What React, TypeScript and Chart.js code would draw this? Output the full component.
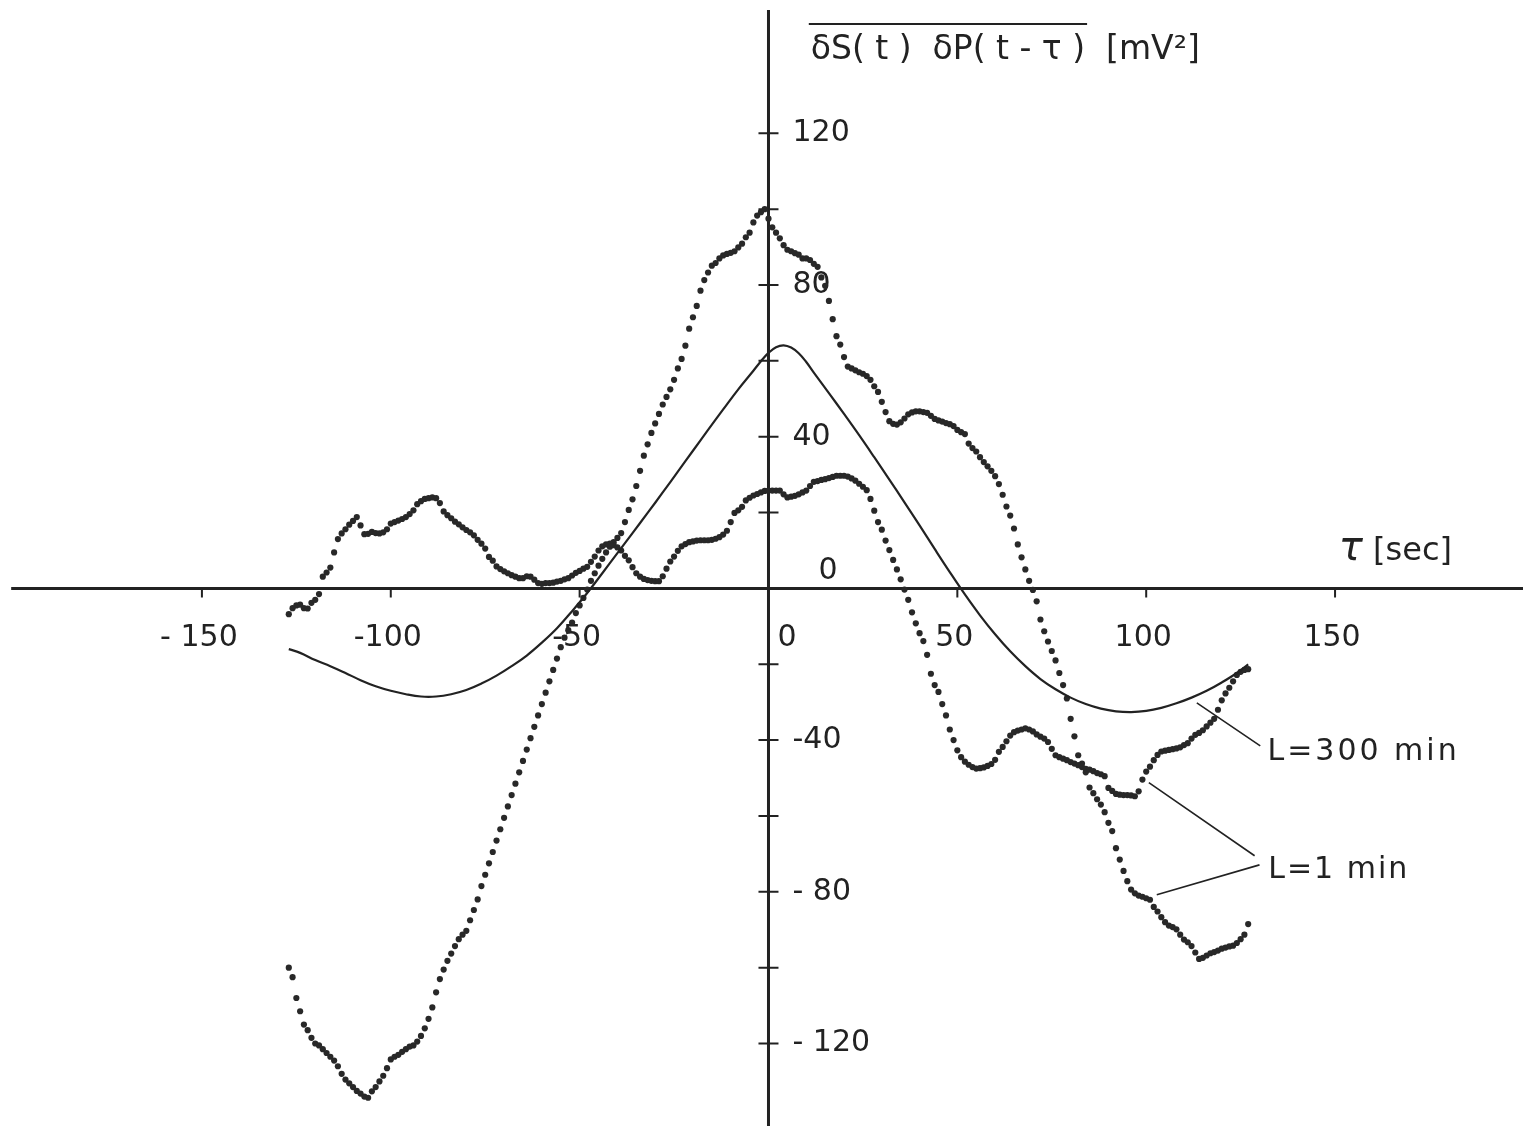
import React, { useEffect, useRef } from "react";
import { Chart, registerables } from "chart.js";

Chart.register(...registerables);

// lag tau [sec] of the sampled correlation values
const LAGS = [
  -127, -126, -125, -124, -123, -122, -121, -120, -119, -118,
  -117, -116, -115, -114, -113, -112, -111, -110, -109, -108,
  -107, -106, -105, -104, -103, -102, -101, -100, -99, -98,
  -97, -96, -95, -94, -93, -92, -91, -90, -89, -88,
  -87, -86, -85, -84, -83, -82, -81, -80, -79, -78,
  -77, -76, -75, -74, -73, -72, -71, -70, -69, -68,
  -67, -66, -65, -64, -63, -62, -61, -60, -59, -58,
  -57, -56, -55, -54, -53, -52, -51, -50, -49, -48,
  -47, -46, -45, -44, -43, -42, -41, -40, -39, -38,
  -37, -36, -35, -34, -33, -32, -31, -30, -29, -28,
  -27, -26, -25, -24, -23, -22, -21, -20, -19, -18,
  -17, -16, -15, -14, -13, -12, -11, -10, -9, -8,
  -7, -6, -5, -4, -3, -2, -1, 0, 1, 2,
  3, 4, 5, 6, 7, 8, 9, 10, 11, 12,
  13, 14, 15, 16, 17, 18, 19, 20, 21, 22,
  23, 24, 25, 26, 27, 28, 29, 30, 31, 32,
  33, 34, 35, 36, 37, 38, 39, 40, 41, 42,
  43, 44, 45, 46, 47, 48, 49, 50, 51, 52,
  53, 54, 55, 56, 57, 58, 59, 60, 61, 62,
  63, 64, 65, 66, 67, 68, 69, 70, 71, 72,
  73, 74, 75, 76, 77, 78, 79, 80, 81, 82,
  83, 84, 85, 86, 87, 88, 89, 90, 91, 92,
  93, 94, 95, 96, 97, 98, 99, 100, 101, 102,
  103, 104, 105, 106, 107, 108, 109, 110, 111, 112,
  113, 114, 115, 116, 117, 118, 119, 120, 121, 122,
  123, 124, 125, 126, 127,
];

// L = 1 min, first record (small amplitude, densely dotted)
const L1_SMALL = [
  -6.8, -5.2, -4.5, -4.3, -5.2, -5.3, -3.8, -3, -1.5, 3.1,
  4.2, 5.5, 9.5, 13, 14.5, 15.6, 16.8, 17.8, 18.8, 16.6,
  14.3, 14.4, 14.9, 14.6, 14.5, 14.8, 15.6, 17.1, 17.5, 17.9,
  18.3, 18.8, 19.6, 20.6, 22.2, 23, 23.6, 23.8, 24, 23.8,
  22.5, 20.3, 19.3, 18.5, 17.6, 16.9, 16.1, 15.4, 14.8, 14,
  12.8, 11.8, 10.5, 8.3, 7.3, 5.8, 5.1, 4.5, 4, 3.5,
  3.1, 2.7, 2.7, 3.2, 3.1, 2.3, 1.4, 1.2, 1.4, 1.4,
  1.5, 1.8, 2, 2.4, 2.7, 3.4, 4.1, 4.6, 5.2, 5.7,
  7, 8.4, 10, 11.1, 11.6, 11.8, 11.4, 10.8, 10, 8.6,
  7.4, 5.6, 4, 3.1, 2.5, 2.2, 2, 1.9, 1.9, 3.2,
  5.2, 7.1, 8.4, 9.9, 11.1, 11.7, 12.2, 12.4, 12.6, 12.7,
  12.7, 12.7, 12.8, 13.1, 13.5, 14.2, 15.2, 17.5, 19.9, 20.6,
  21.5, 23.2, 23.9, 24.5, 24.9, 25.3, 25.7, 25.8, 25.8, 25.8,
  25.8, 24.8, 24, 24.2, 24.4, 24.8, 25.3, 25.8, 27, 28.1,
  28.3, 28.6, 28.8, 29.1, 29.4, 29.7, 29.7, 29.7, 29.5, 29,
  28.4, 27.6, 26.8, 25.9, 23.6, 20.5, 17.5, 15.5, 12.6, 10.1,
  7.5, 5, 2.4, -0.3, -3, -6.3, -9.2, -11.8, -13.9, -17.5,
  -22.5, -25.5, -27.3, -30.5, -33.5, -37.2, -40, -42.7, -44.5, -45.7,
  -46.5, -47.1, -47.5, -47.4, -47.2, -46.8, -46.3, -45.2, -43.1, -41.8,
  -40.3, -38.8, -37.9, -37.5, -37.2, -36.9, -37.2, -37.7, -38.5, -39.1,
  -39.6, -40.5, -42.3, -44, -44.5, -44.9, -45.3, -45.8, -46.2, -46.6,
  -47.1, -47.6, -47.8, -48.2, -48.7, -49, -49.5, -52.6, -53.4, -54.2,
  -54.4, -54.5, -54.5, -54.6, -54.8, -53.5, -50.4, -48.3, -47, -45.3,
  -43.9, -43, -42.8, -42.6, -42.4, -42.2, -41.9, -41.3, -40.8, -39.6,
  -38.6, -38.1, -37.4, -36.4, -35.4, -34.4, -32, -29.5, -27.7, -26.2,
  -24.5, -22.8, -22, -21.5, -21.3,
];

// L = 1 min, second record (large amplitude, sparsely dotted)
const L1_LARGE = [
  -100, -102.5, -108, -111.5, -115, -116.5, -118.5, -120, -120.5, -121.5,
  -122.5, -123.5, -124.5, -126, -128, -129.5, -130.5, -131.5, -132.5, -133.2,
  -134, -134.3, -132.6, -131.5, -130, -128.5, -126.5, -124.2, -123.5, -123,
  -122.2, -121.5, -120.8, -120.5, -119.5, -118, -116, -113.5, -110.5, -106.5,
  -103, -100.5, -98.2, -96.3, -94.3, -92.5, -91.3, -90.3, -87.5, -84.8,
  -82, -78.5, -75.5, -72.5, -69.5, -66.5, -63.5, -60.5, -57.5, -54.5,
  -51.5, -48.5, -45.5, -42.5, -39.5, -36.5, -33.5, -30.5, -27.5, -24.5,
  -21.5, -18.5, -15.5, -13, -11, -9, -6.5, -4.5, -2.5, -0.3,
  2, 4, 6, 7.8, 9.5, 11, 12.2, 13.3, 14.6, 17.5,
  20.7, 23.5, 27, 31, 35, 38, 41, 43.5, 46, 48.5,
  50.5, 52.5, 55, 58, 60.5, 64, 68.5, 71.5, 74.5, 78.5,
  81.3, 83.3, 85.1, 85.8, 87, 87.8, 88.2, 88.5, 88.9, 89.9,
  90.9, 92.6, 93.8, 96.5, 98.3, 99.2, 100, 97.5, 95.2, 93.8,
  92.3, 90.5, 89.3, 88.9, 88.4, 88, 87, 87, 86.6, 85.6,
  84.8, 82, 79.8, 75.8, 71, 66.5, 64.3, 61, 58.5, 58,
  57.5, 57, 56.6, 56, 55, 53.3, 51.8, 49.2, 46.5, 44.1,
  43.4, 43.2, 43.8, 44.8, 45.9, 46.4, 46.7, 46.7, 46.5, 46.3,
  45.5, 44.7, 44.3, 44, 43.6, 43.3, 42.8, 41.8, 41.2, 40.7,
  38.2, 37, 36.1, 34.6, 33.3, 32.2, 31, 29.6, 27.5, 24.7,
  21.6, 19.2, 15.8, 11.6, 8.2, 5, 2, -0.4, -3.4, -8.2,
  -11.3, -14, -16.5, -19, -22.3, -25.5, -29, -34.4, -39, -44,
  -46.2, -48.5, -52.5, -54, -55.6, -57, -59, -61.8, -64, -68.5,
  -71.5, -74.5, -77.2, -79.4, -80.4, -81, -81.3, -81.7, -82.1, -84,
  -85.2, -86.7, -88, -88.9, -89.3, -89.9, -91.3, -92.6, -93.3, -94.3,
  -96, -97.7, -97.4, -96.8, -96.2, -95.9, -95.5, -95, -94.7, -94.4,
  -94.2, -93.5, -92.5, -91.3, -88.5,
];

// L = 300 min (smooth solid curve)
const L300_LAGS = [
  -127, -124, -120, -116, -112, -108, -104, -100, -96, -92, -88, -84, -80, -76, -72, -68,
  -64, -60, -56, -52, -48, -44, -40, -36, -32, -28, -24, -20, -16, -12, -8, -4,
  -2, 0, 2, 4, 6, 8, 10, 12, 16, 20, 24, 28, 32, 36, 40, 44,
  48, 52, 56, 60, 64, 68, 72, 76, 80, 84, 88, 92, 96, 100, 104, 108,
  112, 116, 120, 124, 127,
];
const L300_VALUES = [
  -16, -17, -18.9, -20.5, -22.3, -24.2, -25.8, -27, -27.9, -28.5, -28.5, -27.9, -26.8, -25.1, -23, -20.5,
  -17.7, -14.3, -10.5, -6, -1.2, 4, 9.3, 14.6, 19.9, 25.3, 30.8, 36.3, 41.8, 47.2, 52.5, 57.4,
  59.9, 62.1, 63.6, 64.1, 63.5, 62, 59.7, 56.9, 51.5, 46, 40.4, 34.6, 28.7, 22.7, 16.6, 10.4,
  4.3, -1.6, -7.1, -12.1, -16.6, -20.5, -23.9, -26.6, -28.8, -30.5, -31.7, -32.4, -32.6, -32.3, -31.5, -30.3,
  -28.8, -27, -24.8, -22.3, -20,
];

const X_TICKS = [-150, -100, -50, 50, 100, 150];
const X_TICK_LABELS = ["- 150", "-100", "-50", "50", "100", "150"];
const Y_TICKS = [-120, -100, -80, -60, -40, -20, 20, 40, 60, 80, 100, 120];
const Y_LABEL_VALUES = [120, 80, 40, -40, -80, -120];
const Y_LABELS = ["120", "80", "40", "-40", "- 80", "- 120"];

const Y_TITLE_MAIN = "\u03B4S( t )  \u03B4P( t - \u03C4 )";
const Y_TITLE_UNIT = "  [mV\u00B2]";
const X_TITLE_SYMBOL = "\u03C4";
const X_TITLE_UNIT = " [sec]";
const LABEL_300 = "L=300 min";
const LABEL_1 = "L=1 min";

const INK = "#222222";
const FONT = '"DejaVu Sans", "Liberation Sans", sans-serif';

const paperAxes = {
  id: "paperAxes",
  beforeDatasetsDraw(chart: any) {
    const { ctx, scales } = chart;
    const xs = scales.x;
    const ys = scales.y;
    const x0 = xs.getPixelForValue(0);
    const y0 = ys.getPixelForValue(0);
    ctx.save();
    ctx.strokeStyle = INK;
    ctx.lineCap = "butt";
    // axes
    ctx.lineWidth = 3;
    ctx.beginPath();
    ctx.moveTo(xs.getPixelForValue(-200.5), y0);
    ctx.lineTo(chart.width, y0);
    ctx.moveTo(x0, ys.getPixelForValue(152.5));
    ctx.lineTo(x0, chart.height);
    ctx.stroke();
    // ticks
    ctx.lineWidth = 2;
    ctx.beginPath();
    for (const v of Y_TICKS) {
      const py = ys.getPixelForValue(v);
      ctx.moveTo(x0 - 10, py);
      ctx.lineTo(x0 + 10, py);
    }
    for (const v of X_TICKS) {
      const px = xs.getPixelForValue(v);
      ctx.moveTo(px, y0);
      ctx.lineTo(px, y0 + 9);
    }
    ctx.stroke();
    // tick labels
    ctx.fillStyle = INK;
    ctx.font = `30px ${FONT}`;
    ctx.textBaseline = "middle";
    ctx.textAlign = "center";
    X_TICKS.forEach((v, i) => {
      ctx.fillText(X_TICK_LABELS[i], xs.getPixelForValue(v) - 3, y0 + 50);
    });
    ctx.textAlign = "left";
    ctx.fillText("0", x0 + 9, y0 + 50);
    Y_LABEL_VALUES.forEach((v, i) => {
      ctx.fillText(Y_LABELS[i], x0 + 24, ys.getPixelForValue(v));
    });
    ctx.fillText("0", x0 + 50, y0 - 17);
    ctx.restore();
  },
  afterDraw(chart: any) {
    const { ctx, scales } = chart;
    const xs = scales.x;
    const ys = scales.y;
    ctx.save();
    ctx.fillStyle = INK;
    ctx.strokeStyle = INK;
    ctx.textBaseline = "alphabetic";
    ctx.textAlign = "left";
    // y-axis quantity with overline
    ctx.font = `33px ${FONT}`;
    const tx = xs.getPixelForValue(11.2);
    const ty = ys.getPixelForValue(139.5);
    ctx.fillText(Y_TITLE_MAIN, tx, ty);
    const w1 = ctx.measureText(Y_TITLE_MAIN).width;
    ctx.fillText(Y_TITLE_UNIT, tx + w1, ty);
    ctx.lineWidth = 2;
    ctx.beginPath();
    ctx.moveTo(tx - 2, ys.getPixelForValue(148.8));
    ctx.lineTo(tx + w1 + 2, ys.getPixelForValue(148.8));
    ctx.stroke();
    // x-axis quantity
    const sx = xs.getPixelForValue(151);
    const sy = ys.getPixelForValue(7.5);
    ctx.font = `italic 40px ${FONT}`;
    ctx.fillText(X_TITLE_SYMBOL, sx, sy);
    const ws = ctx.measureText(X_TITLE_SYMBOL).width;
    ctx.font = `32px ${FONT}`;
    ctx.fillText(X_TITLE_UNIT, sx + ws, sy);
    // leader lines
    ctx.lineWidth = 1.6;
    const seg = (a: number[], b: number[]) => {
      ctx.moveTo(xs.getPixelForValue(a[0]), ys.getPixelForValue(a[1]));
      ctx.lineTo(xs.getPixelForValue(b[0]), ys.getPixelForValue(b[1]));
    };
    ctx.beginPath();
    seg([113.4, -30.2], [130.2, -41.5]);
    seg([100.7, -51.2], [128.7, -70.5]);
    seg([102.8, -80.8], [130.0, -72.9]);
    ctx.stroke();
    // curve labels
    ctx.textBaseline = "middle";
    ctx.font = `30px ${FONT}`;
    (ctx as any).letterSpacing = "3px";
    ctx.fillText(LABEL_300, xs.getPixelForValue(132.1), ys.getPixelForValue(-43.2));
    (ctx as any).letterSpacing = "2px";
    ctx.fillText(LABEL_1, xs.getPixelForValue(132.3), ys.getPixelForValue(-74.2));
    (ctx as any).letterSpacing = "0px";
    ctx.restore();
  },
};

export default function App() {
  const canvasRef = useRef<HTMLCanvasElement | null>(null);

  useEffect(() => {
    const canvas = canvasRef.current;
    if (!canvas) return;
    const chart = new Chart(canvas, {
      type: "scatter",
      data: {
        datasets: [
          {
            label: "L = 300 min",
            data: L300_LAGS.map((x, i) => ({ x, y: L300_VALUES[i] })),
            showLine: true,
            borderColor: INK,
            borderWidth: 2.2,
            pointRadius: 0,
            tension: 0.4,
          },
          {
            label: "L = 1 min (a)",
            data: LAGS.map((x, i) => ({ x, y: L1_SMALL[i] })),
            showLine: false,
            pointRadius: 3.1,
            pointBorderWidth: 0,
            backgroundColor: "#282828",
          },
          {
            label: "L = 1 min (b)",
            data: LAGS.map((x, i) => ({ x, y: L1_LARGE[i] })),
            showLine: false,
            pointRadius: 3.1,
            pointBorderWidth: 0,
            backgroundColor: "#282828",
          },
        ],
      },
      options: {
        animation: false,
        responsive: false,
        devicePixelRatio: 1,
        events: [],
        layout: { padding: 0 },
        plugins: { legend: { display: false }, tooltip: { enabled: false } },
        scales: {
          x: { type: "linear", min: -202.4, max: 198.7, display: false },
          y: { type: "linear", min: -140.7, max: 154.1, display: false },
        },
      },
      plugins: [paperAxes],
    });
    return () => chart.destroy();
  }, []);

  return (
    <div
      style={{
        position: "fixed",
        left: 0,
        top: 0,
        width: 1523,
        height: 1126,
        background: "#ffffff",
      }}
    >
      <canvas ref={canvasRef} width={1523} height={1126} style={{ display: "block" }} />
    </div>
  );
}
